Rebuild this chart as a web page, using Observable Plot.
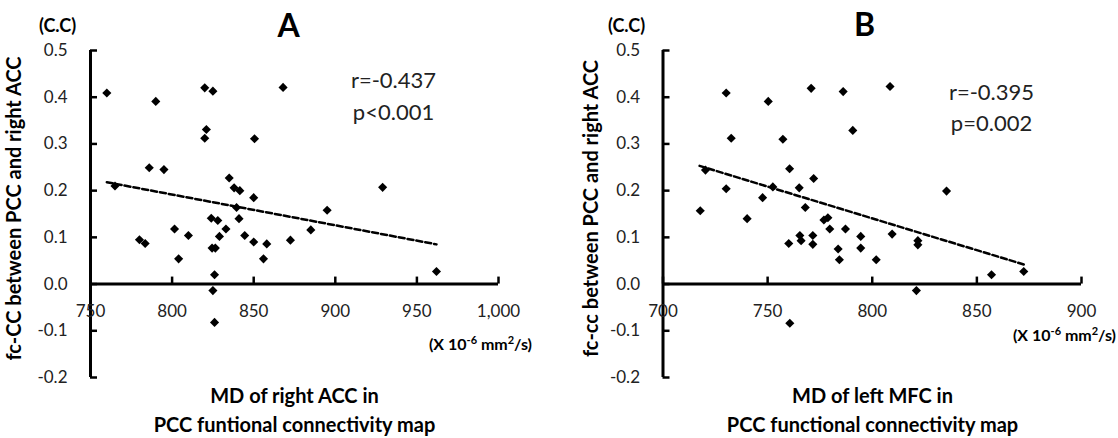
<!DOCTYPE html>
<html><head><meta charset="utf-8">
<script src="https://cdn.jsdelivr.net/npm/d3@7"></script>
<script src="https://cdn.jsdelivr.net/npm/@observablehq/plot@0.6"></script>
<style>
html,body{margin:0;padding:0;background:#fff;}
#wrap{display:flex;width:1118px;height:438px;overflow:hidden;}
#wrap svg{display:block;flex:none;}
</style></head><body><div id="wrap"></div>
<script>
// Panel A: MD of right ACC (x 10^-6 mm2/s) vs fc-CC
const mdA = [760, 790, 820, 825, 868, 821, 820, 850.5, 786, 795, 765, 835, 838, 841.5, 850, 839.5, 895, 841, 824, 828, 801.5, 833, 829, 810, 844.5, 780, 783.5, 850, 858, 824.5, 826.5, 804, 856, 826, 825, 826, 929, 885, 962, 872.5];
const fcA = [0.409, 0.391, 0.420, 0.413, 0.421, 0.331, 0.312, 0.311, 0.249, 0.245, 0.210, 0.227, 0.206, 0.200, 0.185, 0.164, 0.158, 0.140, 0.141, 0.136, 0.118, 0.118, 0.102, 0.104, 0.104, 0.095, 0.087, 0.090, 0.086, 0.077, 0.077, 0.054, 0.054, 0.020, -0.014, -0.082, 0.207, 0.116, 0.027, 0.094];
// Panel B: MD of left MFC vs fc-cc
const mdB = [730.2, 750.3, 770.8, 786.1, 808.5, 790.7, 732.6, 757.3, 720.3, 760.5, 730.2, 752.5, 765.1, 772, 747.6, 768, 717.8, 740.2, 776.9, 778.8, 779.7, 787.2, 760.1, 765.4, 766, 771.6, 771.6, 783.7, 784.3, 794.5, 794.5, 835.5, 809.5, 821.8, 821.8, 801.9, 821.1, 857, 872.4, 760.6];
const fcB = [0.409, 0.391, 0.419, 0.412, 0.423, 0.329, 0.312, 0.310, 0.244, 0.247, 0.204, 0.208, 0.206, 0.226, 0.185, 0.164, 0.157, 0.140, 0.137, 0.142, 0.118, 0.118, 0.087, 0.104, 0.093, 0.104, 0.085, 0.075, 0.052, 0.102, 0.077, 0.199, 0.107, 0.093, 0.084, 0.052, -0.014, 0.020, 0.027, -0.084];
// Trend lines (endpoints)
const trendAx = [760, 962], trendAy = [0.218, 0.085];
const trendBx = [717.5, 872.4], trendBy = [0.253, 0.042];
// Ticks
const xTicksA = [750, 800, 850, 900, 950, 1000];
const xTicksB = [700, 750, 800, 850, 900];
const yTicks = [-0.2, -0.1, 0, 0.1, 0.2, 0.3, 0.4, 0.5];
// Texts
const panelA = {letter: "A", unitY: "(C.C)", yLabel: "fc-CC between PCC and right ACC",
  xLabel1: "MD of right ACC in", xLabel2: "PCC funtional connectivity map", r: "r=-0.437", p: "p<0.001"};
const panelB = {letter: "B", unitY: "(C.C)", yLabel: "fc-cc between PCC and right ACC",
  xLabel1: "MD of left MFC in", xLabel2: "PCC functional connectivity map", r: "r=-0.395", p: "p=0.002"};

const FONT = "Lato, 'Open Sans', 'DejaVu Sans', sans-serif";
const MT = 50, MB = 61, W = 559, H = 438;

function makePanel(cfg) {
  const ml = cfg.ml, mr = cfg.mr;
  const pts = cfg.xs.map((x, i) => ({x, y: cfg.ys[i]}));
  const trend = cfg.tx.map((x, i) => ({x, y: cfg.ty[i]}));
  const x0 = cfg.xDomain[0], x1 = cfg.xDomain[1];
  const T = cfg.text;
  const lab = (s, ax, ay, o) => Plot.text([s], Object.assign({frameAnchor: "top-left", textAnchor: "middle", lineAnchor: "middle",
    dx: ax - ml, dy: ay - MT, text: d => d, fill: "black"}, o));
  const svg = Plot.plot({
    width: W, height: H,
    marginLeft: ml, marginRight: mr, marginTop: MT, marginBottom: MB,
    x: {domain: cfg.xDomain, axis: null},
    y: {domain: [-0.2, 0.5], axis: null},
    style: {fontFamily: FONT, background: "white", overflow: "visible", color: "black"},
    marks: [
      Plot.line(trend, {x: "x", y: "y", stroke: "black", strokeWidth: 2.5, strokeDasharray: "6,3"}),
      Plot.ruleX([x0], {y1: -0.2, y2: 0.5, stroke: "black", strokeWidth: 3}),
      Plot.ruleY([0], {x1: x0, x2: x1, stroke: "black", strokeWidth: 3}),
      Plot.ruleX(cfg.xTicks, {x: d => d, y1: 0, y2: 0, insetTop: -7, stroke: "black", strokeWidth: 2.5}),
      Plot.ruleY(yTicks, {y: d => d, x1: x0, x2: x0, insetRight: -7, stroke: "black", strokeWidth: 2.5}),
      Plot.text(cfg.xTicks, {x: d => d, y: 0, dy: 27, text: d => d3.format(",")(d), fontSize: 17, fill: "#222"}),
      Plot.text(yTicks, {x: x0, y: d => d, dx: -23, textAnchor: "end", text: d => d.toFixed(1), fontSize: 17, fill: "#222"}),
      Plot.dot(pts, {x: "x", y: "y", symbol: "diamond2", r: 4.1, fill: "black", stroke: "none"}),
      lab(T.unitY, cfg.cc[0], cfg.cc[1], {fontSize: 18, fontWeight: "bold"}),
      lab(T.letter, cfg.letterPos[0], cfg.letterPos[1], {fontSize: 32, fontWeight: "bold"}),
      lab(T.r, cfg.rPos[0], cfg.rPos[1], {fontSize: 22, fill: "#222"}),
      lab(T.p, cfg.rPos[0], cfg.rPos[1] + cfg.pGap, {fontSize: 22, fill: "#222"}),
      lab(T.yLabel, cfg.yLabPos[0], cfg.yLabPos[1], {fontSize: 20, fontWeight: "bold", rotate: -90}),
      lab(T.xLabel1, cfg.xLabX, 396, {fontSize: 20, fontWeight: "bold"}),
      lab(T.xLabel2, cfg.xLabX, 425, {fontSize: 20, fontWeight: "bold"})
    ]
  });
  // unit label with superscripts
  const t = d3.select(svg).append("text")
    .attr("x", cfg.unitPos[0]).attr("y", cfg.unitPos[1])
    .attr("text-anchor", "end").attr("font-family", FONT)
    .attr("font-weight", "bold").attr("font-size", 16).attr("fill", "black");
  t.append("tspan").text("(X 10");
  t.append("tspan").attr("dy", -6).attr("font-size", 11).text("-6");
  t.append("tspan").attr("dy", 6).text(" mm");
  t.append("tspan").attr("dy", -6).attr("font-size", 11).text("2");
  t.append("tspan").attr("dy", 6).text("/s)");
  return svg;
}

const wrap = document.getElementById("wrap");
wrap.appendChild(makePanel({
  xs: mdA, ys: fcA, tx: trendAx, ty: trendAy, xDomain: [750, 1000], xTicks: xTicksA,
  ml: 90, mr: 61, text: panelA,
  cc: [57, 26], letterPos: [288, 26], rPos: [393, 80], pGap: 32,
  yLabPos: [14, 208], xLabX: 294, unitPos: [532, 350]
}));
wrap.appendChild(makePanel({
  xs: mdB, ys: fcB, tx: trendBx, ty: trendBy, xDomain: [700, 900], xTicks: xTicksB,
  ml: 103.5, mr: 37, text: panelB,
  cc: [67, 26], letterPos: [305, 25], rPos: [432, 92], pGap: 31,
  yLabPos: [32, 208], xLabX: 313, unitPos: [557, 341]
}));
</script></body></html>
